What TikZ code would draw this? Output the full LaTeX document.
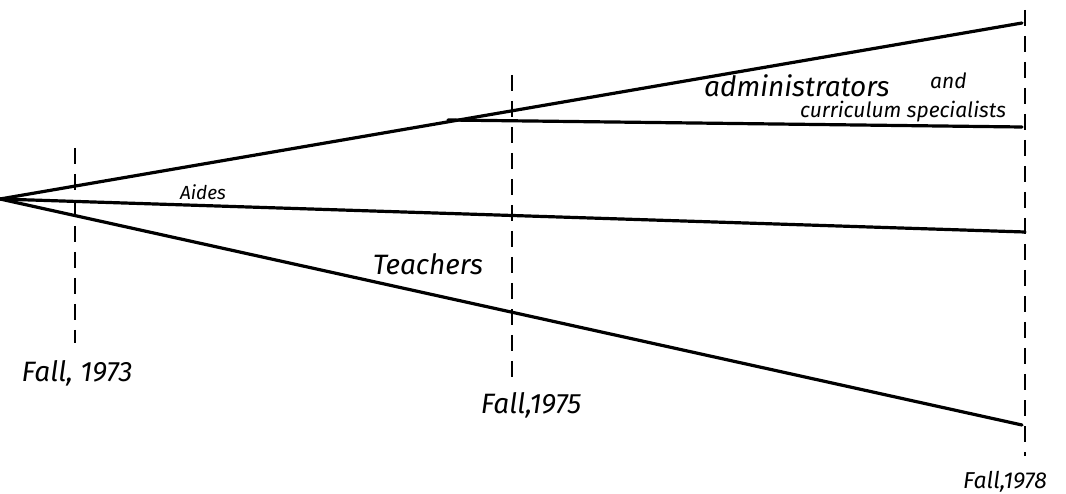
\documentclass[tikz,border=0pt]{standalone}
\usepackage{fontspec}
\setmainfont{Fira Sans}
\begin{document}
\begin{tikzpicture}[x=1pt,y=-1pt,
  solidline/.style={line width=3.2pt, line cap=round},
  guide/.style={line width=2.2pt, dash pattern=on 16pt off 10pt},
  hand/.style={font=\itshape\fontsize{#1}{#1}\selectfont, inner sep=0pt},
  hand/.default=20]
\useasboundingbox (0,0) rectangle (1066,494);
% anchor points
\coordinate (O) at (0,199);
\coordinate (topEnd) at (1022,23);
\coordinate (branch) at (448,120);
\coordinate (branchEnd) at (1022,127);
\coordinate (aidesEnd) at (1025,232);
\coordinate (teachEnd) at (1022,425);
\coordinate (g1t) at (75,148);
\coordinate (g1b) at (75,343);
\coordinate (g2t) at (512,75);
\coordinate (g2b) at (512,385);
\coordinate (g3t) at (1025,10);
\coordinate (g3b) at (1025,456);
% guides
\draw[guide] (g1t) -- (g1b);
\draw[guide] (g2t) -- (g2b);
\draw[guide] (g3t) -- (g3b);
% lines
\draw[solidline] (O) -- (topEnd);
\draw[solidline] (branch) -- (branchEnd);
\draw[solidline] (O) -- (aidesEnd);
\draw[solidline] (O) -- (teachEnd);
% labels
\node[hand=19] (aides) at (203,192) {Aides};
\node[hand=28] (teach) at (428,264) {Teachers};
\node[hand=28, anchor=base west] (adm) at (704,97) {administrators};
\node[hand=21, anchor=base west] (and) at (930,89) {and};
\node[hand=21, anchor=north] (cur) at (903,101) {curriculum specialists};
\node[hand=28] (f73) at (77,373) {Fall, 1973};
\node[hand=28] (f75) at (531,405) {Fall,1975};
\node[hand=23] (f78) at (1005,482) {Fall,1978};
\end{tikzpicture}
\end{document}
